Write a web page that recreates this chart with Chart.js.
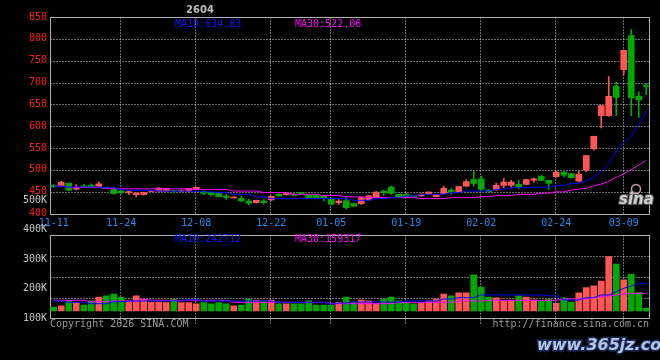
<!DOCTYPE html>
<html><head><meta charset="utf-8">
<script src="https://cdn.jsdelivr.net/npm/chart.js@4/dist/chart.umd.min.js"></script>
<style>html,body{margin:0;padding:0;background:#000;}canvas{display:block;}</style>
</head><body>
<canvas id="c" width="660" height="360"></canvas>
<script>
const DATES = [
 '11-11','11-12','11-13','11-14','11-17','11-18','11-19','11-20','11-21','11-24','11-25','11-26','11-27','11-28',
 '12-01','12-02','12-03','12-04','12-05','12-08','12-09','12-10','12-11','12-12','12-15','12-16','12-17','12-18','12-19',
 '12-22','12-23','12-24','12-25','12-26','12-29','12-30','12-31',
 '01-05','01-06','01-07','01-08','01-09','01-12','01-13','01-14','01-15','01-16','01-19','01-20','01-21','01-22','01-23',
 '01-26','01-27','01-28','01-29','01-30',
 '02-02','02-03','02-04','02-05','02-06','02-09','02-10','02-11','02-12','02-13','02-24','02-25','02-26','02-27',
 '03-02','03-03','03-04','03-05','03-06','03-09','03-10','03-11','03-12'];
const TICK_DATES = ['11-11','11-24','12-08','12-22','01-05','01-19','02-02','02-24','03-09'];

const OPEN = [464.3,464.3,468.9,456,462,465,462,459,454.5,451.4,
 447.7,443.1,443,450.3,451.4,451.4,453,451,451.4,454.5,
 450,448.4,446.1,440,435.5,434.8,428.6,424.9,428.6,431,
 444.5,443.1,444.5,446.2,441.6,441.6,440,432.5,424.9,429.5,
 422.7,422.3,431,436.4,451.4,460.5,443.8,443.8,439,440,
 444.5,438.6,446.1,453.8,449,462.7,477.9,479.5,453.8,453.8,
 464.3,464.3,466.6,466.6,476.4,485.4,475.7,484.1,494.5,491.6,
 474.1,499.3,547.9,624.2,624.2,691.8,729.5,807.6,668.9,692.5];
const HIGH = [466,473.4,470,466,466.6,468.2,471.8,460,460.5,453,
 451,447.5,449,451.5,459.5,457.5,453.5,454,457.5,460.5,
 452,449,447,443.8,438.5,440,432.5,431,432,440,
 445,447,445.5,448,442,442,441,433,432,438.6,
 423.5,437,441,450,453.5,462.7,444.5,446,439.5,446,
 449.5,444.5,462.7,458,462.5,476.9,499,485.5,455,468.9,
 480,475.7,475.7,478.5,481.7,487.7,476,496.9,496.9,492,
 496.9,533.5,577.5,648,713.6,700.9,774,821.3,678.7,697.5];
const LOW = [459,463,452,454,459.8,459,459.8,457,444,445,
 443,438.6,442,450,451,451,447,450,450,454,
 443,440,438,432.5,435,427.3,419.5,424,421.5,430,
 439,442,441,444,436,436,428.6,420,421,409.8,
 416,421,430,436,442,443.8,438,438,437.5,439.5,
 444,438,445,444,448,462,462.7,452,449,453,
 459,459,456.8,466,471.8,475,455,483.5,484,481,
 472.5,496,545,596,622.3,623.8,716.6,624,620,672];
const CLOSE = [461.4,471.1,453.6,459,461,459.8,468.2,458,445.5,448.4,
 450,446.8,448.4,451,458.2,456.8,451,453,456.8,459.8,
 446,443.1,438.6,437,437.8,429.5,423.4,430.2,424.9,439.3,
 440,445.5,441.6,445.5,436.4,436.4,436.4,421.1,428.6,413.6,
 416.6,436.4,440.4,449,447.7,446.1,438.6,438.6,438.2,443.8,
 449,443.8,457.5,447.7,461.8,473.2,468.9,455,450,464.3,
 471.8,471.8,461.4,477.9,479.5,475.7,468.9,494.5,487.7,481.8,
 490,532.7,576.7,647,668.5,666.1,773.4,665.4,660,691];
const MA10 = [462.7,462.7,460.5,460.5,460.5,460.5,460.5,459.1,459.1,455.2,
 453,453,453,453,451.4,451.4,451.4,451.4,451.4,451.4,
 449.5,449.5,447.7,447.7,443.9,443.9,443.9,438,438,434.1,
 434.1,434.1,434.1,434.1,434.1,434.1,434.1,434.1,434.1,434.1,
 430.2,430.2,430.2,434.1,434.1,436.4,436.4,440,440,443.9,
 443.9,443.9,443.9,447.7,447.7,451.4,451.4,451.4,451.4,455.2,
 455.2,459.1,459.1,459.1,460.5,460.5,460.5,464.3,464.3,468.9,
 468.9,474.1,482.5,496.1,512.7,543.2,562,577.3,603.6,634.83];
const MA30 = [462.7,462.7,459.8,459.8,459.8,459.8,459.8,456.8,456.8,456.8,
 456.4,456.4,456.4,456.4,456.4,456.4,456.4,456.4,456.4,455.2,
 455.2,455.2,455.2,455.2,451.4,451.4,451.4,451.4,448,448,
 448,448,443.9,443.9,443.9,443.9,441.1,441.1,441.1,438.2,
 438.2,438.2,436.4,436.4,436.4,436.4,436.4,436.4,436.4,434.1,
 434.1,434.1,434.1,436.4,436.4,436.4,436.4,438.6,438.6,440.9,
 440.9,440.9,443.9,443.9,443.9,446.6,446.6,449.5,449.5,453.6,
 455.9,457.5,463.6,467.3,473.4,483,490.5,500.7,510.9,522.06];
const VOLUME = [137000,141000,158000,153000,144000,158000,171000,175000,181000,171000,
 158000,175000,163000,154000,154000,152000,164000,152000,152000,148000,
 152000,148000,152000,148000,141000,144000,164000,161000,158000,161000,
 148000,148000,148000,148000,158000,144000,144000,144000,153000,171000,
 153000,161000,158000,148000,164000,171000,158000,153000,148000,150000,
 158000,164000,181000,175000,185000,185000,246000,205000,171000,168000,
 158000,161000,175000,171000,161000,158000,164000,151000,168000,154000,
 185000,203000,209000,225000,308000,283000,229000,249000,186000,134000];
const VOL_MA10 = [157600,157600,153000,153000,153000,148500,148500,148500,155000,155000,
 157600,157600,157600,157600,157600,157600,157600,157600,162000,162000,
 157600,157600,157600,157600,157600,157600,157600,157600,157600,157600,
 153200,153200,153200,153200,153200,153200,153200,146400,150900,150900,
 154200,154200,154200,154200,154200,154200,154200,157600,157600,157600,
 157600,157600,164400,164400,168800,168800,168800,178000,178000,178000,
 178000,178000,178000,178000,178000,178000,175000,175000,161000,161000,
 161000,168800,168800,178000,178000,189200,200700,208500,217600,217600];
const VOL_MA30 = [160000,160000,160000,160000,160000,155300,155300,155300,157600,157600,
 157600,157600,164400,160000,160000,160000,160000,160000,160000,160000,
 160000,160000,160000,160000,153200,153200,153200,153200,153200,153200,
 153200,153200,153200,153200,153200,153200,153200,148500,148500,148500,
 148500,148500,148500,148500,148500,148500,153200,153200,153200,153200,
 153200,153200,153200,153200,157600,157600,157600,157600,160000,160000,
 160000,160000,160000,160000,160000,160000,160000,160000,164400,164400,
 164400,164400,170000,172000,175000,178000,182000,183700,183700,183700];
const PRICE_TICKS = [400,450,500,550,600,650,700,750,800,850];
const VOL_TICKS = [100000,200000,300000,400000,500000];
const PRICE_TEXT = ['MA10:634.83','MA30:522.06'];
const VOL_TEXT = ['MA10:242712','MA30:159317'];
const TITLE = '2604';

// --- layout / style ---
const UP = '#ff5555', DOWN = '#00a800';
const AREA_TOP = 17, AREA_BOTTOM = 318;
const AREA_PX = AREA_BOTTOM - AREA_TOP;
const PRICE_PANEL_PX = 196.5;               // 850 -> 400
const VOL_AREA_PX = AREA_PX - PRICE_PANEL_PX;
const P_MAX = 850, P_LOW = 400;
const V_MIN = 100000, V_PER_PX = 3390;
const V_MAX = V_MIN + VOL_AREA_PX * V_PER_PX;
const VOL_BASE = V_MIN + 7 * V_PER_PX;
const VOL_PANEL_TOP = V_MIN + 83 * V_PER_PX;
const MONO = '"DejaVu Sans Mono", monospace';

const isUp = i => CLOSE[i] >= OPEN[i];
const candleColor = ctx => isUp(ctx.dataIndex) ? UP : DOWN;

const panels = {
  id: 'panels',
  beforeDatasetsDraw(chart) {
    const {ctx, chartArea: a, scales: {x, yP, yV}} = chart;
    const pTop = Math.round(yP.getPixelForValue(P_MAX)) + 0.5;
    const pBot = Math.round(yP.getPixelForValue(P_LOW)) + 0.5;
    const vTop = Math.round(yV.getPixelForValue(VOL_PANEL_TOP)) + 0.5;
    const vBot = Math.round(yV.getPixelForValue(V_MIN)) + 0.5;
    const L = a.left + 0.5, R = a.right - 0.5;
    const line = (x1, y1, x2, y2) => { ctx.beginPath(); ctx.moveTo(x1, y1); ctx.lineTo(x2, y2); ctx.stroke(); };
    ctx.save();
    ctx.lineWidth = 1;
    ctx.strokeStyle = '#d8d8d8';
    ctx.setLineDash([1, 2]);
    PRICE_TICKS.slice(1, -1).forEach(v => {
      const y = Math.round(yP.getPixelForValue(v)) + 0.5; line(L, y, R, y);
    });
    for (let k = 1; k <= 3; k++) {
      const y = Math.round(vTop + (vBot - vTop) * k / 4) + 0.5; line(L, y, R, y);
    }
    TICK_DATES.forEach(d => {
      const i = DATES.indexOf(d);
      if (i <= 0) return;
      const xx = Math.round(x.getPixelForValue(i)) - 0.5;
      line(xx, pTop, xx, pBot);
      line(xx, vTop, xx, vBot + 5);
    });
    ctx.setLineDash([]);
    ctx.strokeStyle = '#b0b0b0';
    ctx.strokeRect(L, pTop, R - L, pBot - pTop);
    ctx.strokeRect(L, vTop, R - L, vBot - vTop);
    ctx.restore();
  },
  afterDraw(chart) {
    const {ctx} = chart;
    ctx.save();
    ctx.textBaseline = 'middle';
    ctx.font = 'bold 10px "DejaVu Sans"';
    ctx.fillStyle = '#bdbdbd'; ctx.textAlign = 'center';
    ctx.fillText(TITLE, 200, 10);
    ctx.font = '10px ' + MONO; ctx.textAlign = 'left';
    ctx.fillStyle = '#1414ff'; ctx.fillText(PRICE_TEXT[0], 175, 24);
    ctx.fillStyle = '#ff00ff'; ctx.fillText(PRICE_TEXT[1], 295, 24);
    ctx.fillStyle = '#1414ff'; ctx.fillText(VOL_TEXT[0], 175, 239);
    ctx.fillStyle = '#ff00ff'; ctx.fillText(VOL_TEXT[1], 295, 239);
    ctx.fillStyle = '#9a9a9a';
    ctx.fillText('Copyright 2026 SINA.COM', 50, 324);
    ctx.textAlign = 'right';
    ctx.fillText('http://finance.sina.com.cn', 649, 324);
    // sina logo
    ctx.textAlign = 'left';
    ctx.font = 'italic bold 15px "DejaVu Sans"';
    ctx.lineWidth = 2; ctx.strokeStyle = '#5a5a5a';
    ctx.strokeText('sina', 619, 200);
    ctx.fillStyle = '#d0d0d0'; ctx.fillText('sina', 619, 200);
    ctx.beginPath(); ctx.arc(636, 189, 4.5, 0, Math.PI * 2);
    ctx.strokeStyle = '#c8a0a0'; ctx.lineWidth = 1.5; ctx.stroke();
    // watermark
    ctx.font = 'italic bold 16px "DejaVu Sans"';
    ctx.lineWidth = 3; ctx.strokeStyle = '#1c2c5a';
    ctx.strokeText('www.365jz.com', 537, 346);
    ctx.fillStyle = '#b4c4e4'; ctx.fillText('www.365jz.com', 537, 346);
    ctx.restore();
  }
};

new Chart(document.getElementById('c'), {
  type: 'bar',
  data: {
    labels: DATES,
    datasets: [
      {type: 'line', data: MA10, yAxisID: 'yP', borderColor: '#0000ff', borderWidth: 1, pointRadius: 0, order: 0},
      {type: 'line', data: MA30, yAxisID: 'yP', borderColor: '#ff00ff', borderWidth: 1, pointRadius: 0, order: 0},
      {type: 'line', data: VOL_MA10, yAxisID: 'yV', borderColor: '#0000ff', borderWidth: 1, pointRadius: 0, order: 0},
      {type: 'line', data: VOL_MA30, yAxisID: 'yV', borderColor: '#ff00ff', borderWidth: 1, pointRadius: 0, order: 0},
      {data: OPEN.map((o, i) => [o, CLOSE[i]]), yAxisID: 'yP', backgroundColor: candleColor,
       barThickness: 6, minBarLength: 1, grouped: false, borderWidth: 0, order: 2},
      {data: LOW.map((l, i) => [l, HIGH[i]]), yAxisID: 'yP', backgroundColor: candleColor,
       barThickness: 1, grouped: false, borderWidth: 0, order: 3},
      {data: VOLUME, yAxisID: 'yV', base: VOL_BASE, backgroundColor: candleColor,
       barThickness: 6, grouped: false, borderWidth: 0, order: 2}
    ]
  },
  options: {
    responsive: false, animation: false, devicePixelRatio: 1,
    layout: {padding: {top: AREA_TOP, bottom: 360 - AREA_BOTTOM, left: 0, right: 10}},
    plugins: {legend: {display: false}, tooltip: {enabled: false}},
    scales: {
      x: {
        type: 'category', offset: true, position: {yP: P_LOW},
        grid: {display: false, drawTicks: false}, border: {display: false},
        ticks: {autoSkip: false, maxRotation: 0, minRotation: 0, padding: 4,
          color: '#1e8cf0', font: {family: MONO, size: 10},
          callback(v) { const d = DATES[v]; return TICK_DATES.includes(d) ? d : ''; }}
      },
      yP: {
        type: 'linear', position: 'left', stack: 'left', stackWeight: PRICE_PANEL_PX, weight: 1,
        min: P_LOW, max: P_MAX,
        grid: {display: false, drawTicks: false}, border: {display: false},
        afterBuildTicks(s) { s.ticks = PRICE_TICKS.map(v => ({value: v})); },
        afterFit(s) { s.width = 50; },
        ticks: {autoSkip: false, color: '#ff1a1a', padding: 3, font: {family: MONO, size: 10}, callback: v => String(v)}
      },
      yV: {
        type: 'linear', position: 'left', stack: 'left', stackWeight: VOL_AREA_PX, weight: 0,
        min: V_MIN, max: V_MAX,
        grid: {display: false, drawTicks: false}, border: {display: false},
        afterBuildTicks(s) { s.ticks = VOL_TICKS.map(v => ({value: v})); },
        afterFit(s) { s.width = 50; },
        ticks: {autoSkip: false, color: '#c4c4c4', padding: 3, font: {family: MONO, size: 10}, callback: v => (v / 1000) + 'K'}
      }
    }
  },
  plugins: [panels]
});
</script>
</body></html>
